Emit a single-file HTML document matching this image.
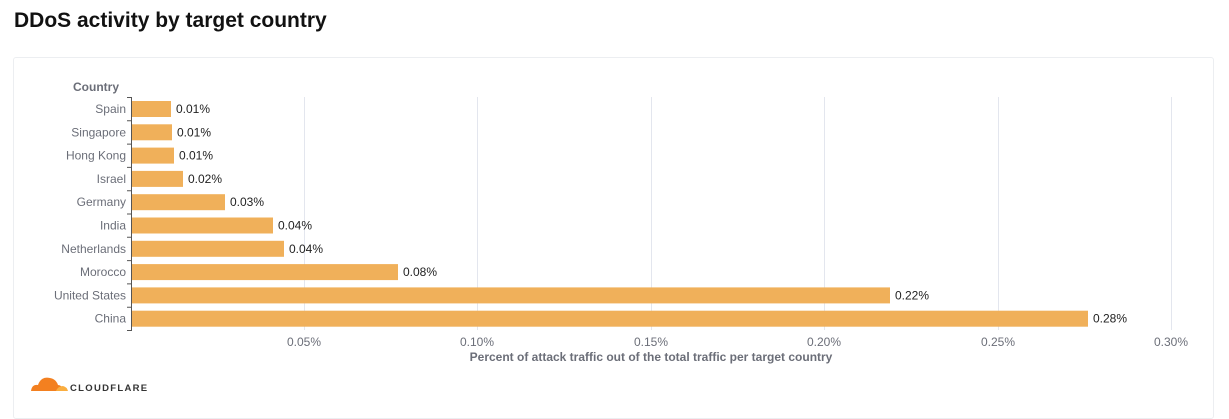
<!DOCTYPE html>
<html><head><style>
body{margin:0;width:1229px;height:408px;background:#fff;font-family:"Liberation Sans",Arial,sans-serif;overflow:hidden;position:relative}
h1{position:absolute;left:14px;top:9px;margin:0;font-size:21px;font-weight:bold;color:#111}
.card{position:absolute;left:13px;top:57px;width:1199px;height:360px;border:1px solid #eceef1;border-radius:3px}
</style></head><body>
<h1>DDoS activity by target country</h1>
<div class="card"></div>
<svg width="1229" height="408" style="position:absolute;left:0;top:0" font-family="Liberation Sans, Arial, sans-serif">
<g stroke="#e3e6ee" stroke-width="1">
<line x1="304.5" y1="97" x2="304.5" y2="330"/><line x1="477.5" y1="97" x2="477.5" y2="330"/><line x1="651.5" y1="97" x2="651.5" y2="330"/><line x1="824.5" y1="97" x2="824.5" y2="330"/><line x1="998.5" y1="97" x2="998.5" y2="330"/><line x1="1171.5" y1="97" x2="1171.5" y2="330"/>
</g>
<text x="73" y="91" font-size="12" font-weight="bold" fill="#6b6e78">Country</text>
<g fill="#f0b05a">
<rect x="131" y="101" width="40" height="16"/>
<rect x="131" y="124.3" width="41" height="16"/>
<rect x="131" y="147.6" width="43" height="16"/>
<rect x="131" y="170.9" width="52" height="16"/>
<rect x="131" y="194.2" width="94" height="16"/>
<rect x="131" y="217.5" width="142" height="16"/>
<rect x="131" y="240.8" width="153" height="16"/>
<rect x="131" y="264.1" width="267" height="16"/>
<rect x="131" y="287.4" width="759" height="16"/>
<rect x="131" y="310.7" width="957" height="16"/>
</g>
<g font-size="12" fill="#6b6e78" text-anchor="end">
<text x="126" y="113">Spain</text><text x="126" y="136.3">Singapore</text><text x="126" y="159.6">Hong Kong</text><text x="126" y="182.9">Israel</text><text x="126" y="206.2">Germany</text><text x="126" y="229.5">India</text><text x="126" y="252.8">Netherlands</text><text x="126" y="276.1">Morocco</text><text x="126" y="299.4">United States</text><text x="126" y="322.7">China</text>
</g>
<g font-size="12" fill="#222">
<text x="176" y="113">0.01%</text><text x="177" y="136.3">0.01%</text><text x="179" y="159.6">0.01%</text><text x="188" y="182.9">0.02%</text><text x="230" y="206.2">0.03%</text><text x="278" y="229.5">0.04%</text><text x="289" y="252.8">0.04%</text><text x="403" y="276.1">0.08%</text><text x="895" y="299.4">0.22%</text><text x="1093" y="322.7">0.28%</text>
</g>
<g stroke="#555" stroke-width="1" fill="none">
<path d="M127 97.5H131.5V330.5H127"/>
<path d="M127 120.8H131M127 144.1H131M127 167.4H131M127 190.7H131M127 214H131M127 237.3H131M127 260.6H131M127 283.9H131M127 307.2H131"/>
</g>
<g font-size="12" fill="#6b6e78" text-anchor="middle">
<text x="304" y="346">0.05%</text><text x="477" y="346">0.10%</text><text x="651" y="346">0.15%</text><text x="824" y="346">0.20%</text><text x="998" y="346">0.25%</text><text x="1171" y="346">0.30%</text>
<text x="651" y="361" font-weight="bold">Percent of attack traffic out of the total traffic per target country</text>
</g>
<path d="M31 391 Q32 384 38 385 Q41 376 50 378 Q56 379 58 385 Q62 385 64 391 Z" fill="#f38020"/>
<path d="M56 391 Q58 386 63 386 Q67 387 68 391 Z" fill="#faae40"/>
<text x="70" y="391" font-size="9.5" font-weight="bold" letter-spacing="1.3" fill="#333">CLOUDFLARE</text>
</svg>
</body></html>
